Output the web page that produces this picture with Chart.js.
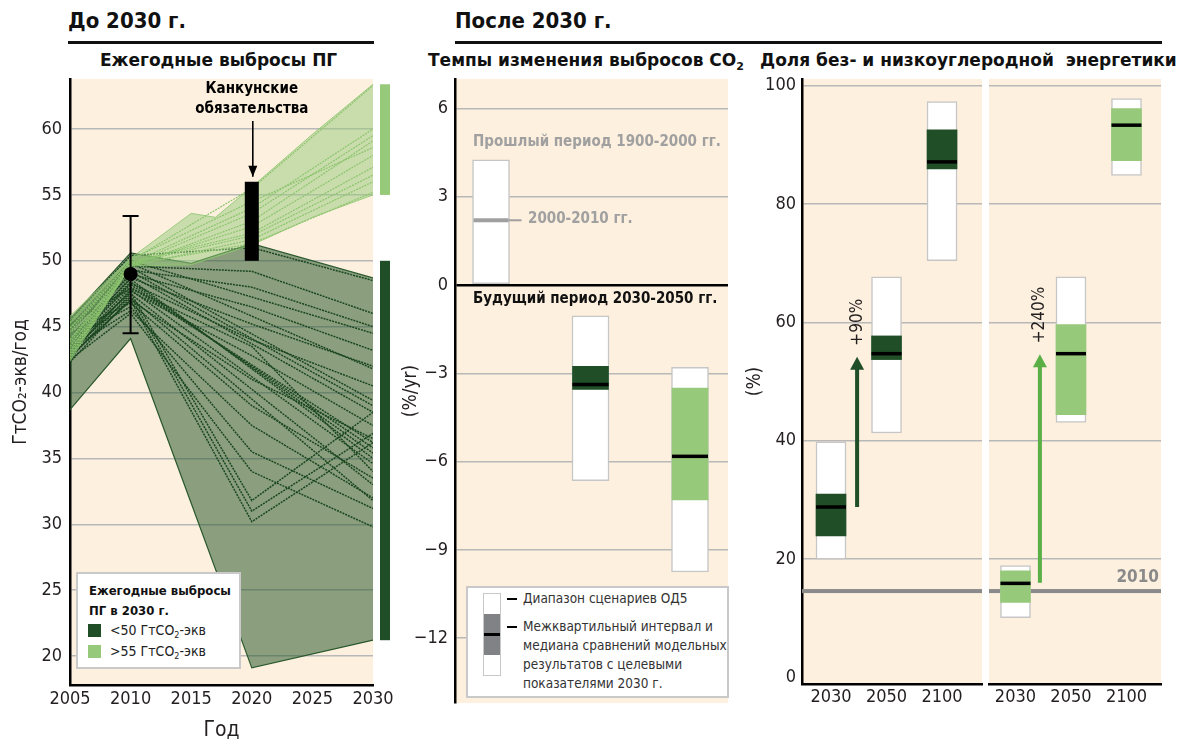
<!DOCTYPE html>
<html lang="ru">
<head>
<meta charset="utf-8">
<title>Выбросы ПГ до и после 2030 г.</title>
<script src="https://cdn.jsdelivr.net/npm/chart.js@4.4.1/dist/chart.umd.min.js"></script>
<style>
  html, body { margin: 0; padding: 0; background: #fff; }
  body { width: 1185px; height: 743px; position: relative; overflow: hidden;
         font-family: "DejaVu Sans Condensed", "DejaVu Sans", sans-serif; color: #111; }
  .abs { position: absolute; white-space: nowrap; }
  .head { font-weight: bold; font-size: 22px; line-height: 24px; }
  .rule { background: #111; height: 2.5px; }
  .sub { font-family: "DejaVu Sans", sans-serif; font-weight: bold; font-size: 17px; line-height: 20px; }
  .sub sub { font-size: 11px; vertical-align: -4px; }
  .note { font-weight: bold; font-size: 15px; line-height: 18px; }
  .legend { background: #fff; border: 2px solid #c9c9c9; box-sizing: border-box; }
  .legend sub { font-size: 9px; vertical-align: -3px; }
  .sw { position: absolute; width: 13px; height: 13px; }
  canvas { display: block; }
</style>
</head>
<body>

<div class="abs head" style="left:68px; top:9px;">До 2030 г.</div>
<div class="abs rule" style="left:68px; top:41px; width:306px;"></div>
<div class="abs head" style="left:455px; top:9px;">После 2030 г.</div>
<div class="abs rule" style="left:455px; top:41px; width:707px;"></div>

<div class="abs sub" style="left:100px; top:50px;">Ежегодные выбросы ПГ</div>
<div class="abs sub" style="left:428px; top:50px;">Темпы изменения выбросов CO<sub>2</sub></div>
<div class="abs sub" style="left:760px; top:50px;">Доля без- и низкоуглеродной&nbsp; энергетики</div>

<div class="abs" style="left:0; top:60px;"><canvas id="emissionsChart" width="400" height="683"></canvas></div>
<div class="abs" style="left:400px; top:60px;"><canvas id="ratesChart" width="340" height="683"></canvas></div>
<div class="abs" style="left:740px; top:60px;"><canvas id="shareLowChart" width="245" height="683"></canvas></div>
<div class="abs" style="left:985px; top:60px;"><canvas id="shareHighChart" width="200" height="683"></canvas></div>

<!-- подписи среднего графика -->
<div class="abs note" style="left:473px; top:132px; color:#a0a0a0;">Прошлый период 1900-2000 гг.</div>
<div class="abs note" style="left:528px; top:209px; color:#a0a0a0;">2000-2010 гг.</div>
<div class="abs note" style="left:473px; top:289px;">Будущий период 2030-2050 гг.</div>

<!-- легенда левого графика -->
<div class="abs legend" style="left:76px; top:572px; width:165px; height:97px;">
  <div class="abs" style="left:11px; top:7px; font-weight:bold; font-size:13px; line-height:20px;">Ежегодные выбросы<br>ПГ в 2030 г.</div>
  <div class="sw" style="left:10px; top:50px; background:#1f4e27;"></div>
  <div class="abs" style="left:32px; top:47px; font-size:14px; line-height:18px; color:#222;">&lt;50 ГтCO<sub>2</sub>-экв</div>
  <div class="sw" style="left:10px; top:71px; background:#96ca7a;"></div>
  <div class="abs" style="left:32px; top:68px; font-size:14px; line-height:18px; color:#222;">&gt;55 ГтCO<sub>2</sub>-экв</div>
</div>

<!-- легенда среднего графика -->
<div class="abs legend" style="left:466px; top:586px; width:263px; height:112px;">
  <div class="abs" style="left:15px; top:5px; width:18px; height:83px; border:1px solid #c9c9c9; background:#fff; box-sizing:border-box;"></div>
  <div class="abs" style="left:16px; top:26px; width:16px; height:41px; background:#808285;"></div>
  <div class="abs" style="left:16px; top:45px; width:16px; height:3px; background:#000;"></div>
  <div class="abs" style="left:39px; top:10px; width:10px; height:2px; background:#000;"></div>
  <div class="abs" style="left:39px; top:38px; width:10px; height:2px; background:#000;"></div>
  <div class="abs" style="left:55px; top:1px; font-size:13.5px; line-height:19px; color:#333;">Диапазон сценариев ОД5</div>
  <div class="abs" style="left:55px; top:29px; font-size:13.5px; line-height:19px; color:#333;">Межквартильный интервал и<br>медиана сравнений модельных<br>результатов с целевыми<br>показателями 2030 г.</div>
</div>

<script>
// ---------- ежегодные выбросы ПГ до 2030 г. ----------
const emissionTicks = [20, 25, 30, 35, 40, 45, 50, 55, 60];
const yearTicks = [2005, 2010, 2015, 2020, 2025, 2030];

// границы диапазона сценариев <50 ГтCO2-экв
const lowBandYears = [2005, 2010, 2015, 2020, 2030];
const lowBandUpper = [45.6, 50.6, 49.8, 51.3, 48.7];
const lowBandLower = [38.7, 44.1, 31.6, 19.1, 21.2];

// границы диапазона сценариев >55 ГтCO2-экв
const highBandYears = [2005, 2010, 2015, 2017, 2020, 2025, 2030];
const highBandUpper = [45.8, 50.2, 53.6, 53.3, 55.6, 59.6, 63.4];
const highBandLower = [42.4, 49.6, 49.7, 50.3, 51.2, 53.3, 55.0];

// отдельные сценарии: значения в 2005, 2010, 2020 и 2030 гг. (null — нет значения на 2020 г.)
const scenarioYears = [2005, 2010, 2020, 2030];
const lowScenarios = [
  [44.0, 48.6, null, 35.0],
  [43.8, 48.4, null, 35.4],
  [43.5, 48.2, null, 35.8],
  [43.2, 48.0, null, 36.2],
  [42.9, 47.8, null, 34.6],
  [44.3, 48.9, null, 38.5],
  [44.6, 49.2, null, 39.0],
  [44.8, 49.5, null, 39.4],
  [45.1, 49.8, null, 41.8],
  [45.3, 50.0, null, 44.5],
  [42.6, 47.5, null, 33.0],
  [42.3, 47.2, null, 31.8],
  [45.5, 50.4, 51.0, 48.5],
  [45.0, 49.6, 49.2, 46.0],
  [44.7, 49.3, 48.0, 45.0],
  [44.2, 49.0, 46.5, 43.2],
  [43.9, 48.7, 45.2, 42.0],
  [43.6, 48.3, 44.0, 40.5],
  [43.0, 47.7, 42.8, 37.5],
  [42.7, 47.0, 41.0, 36.5],
  [43.4, 47.6, 31.8, 38.5],
  [43.1, 47.3, 31.0, 36.9],
  [42.8, 47.0, 30.2, 36.2],
  [44.1, 46.5, 35.5, 31.2],
  [43.3, 46.2, 37.5, 32.0],
  [42.5, 46.0, 34.0, 29.8],
  [44.5, 46.8, 39.0, 33.5],
  [45.2, 47.9, 43.5, 34.0]
];
const highScenarios = [
  [44.6, 50.0, 55.5, 63.3],
  [44.0, 49.8, 54.0, 60.0],
  [43.5, 49.7, 53.6, 59.5],
  [43.0, 49.6, 53.0, 59.1],
  [42.6, 49.7, 52.6, 58.0],
  [44.9, 49.9, 52.1, 57.1],
  [43.8, 49.8, 51.9, 56.5],
  [42.8, 49.6, 51.6, 56.0],
  [45.3, 50.1, 54.5, 58.6],
  [43.2, 49.7, 51.3, 55.2]
];

// наблюдения 2010 г. и Канкунские обязательства на 2020 г.
const observed2010 = { year: 2010, value: 49.0, low: 44.5, high: 53.4 };
const cancunPledges = { year: 2020, low: 50.0, high: 56.0 };
// диапазоны 2030 г. для полос справа от графика
const range2030High = [55.0, 63.4];
const range2030Low = [21.2, 50.0];

// ---------- темпы изменения выбросов CO2 ----------
const rateTicks = [-12, -9, -6, -3, 0, 3, 6];
const ratePositions = [1, 2, 3];
const rateRanges = [[0, 4.25], [-6.65, -1.05], [-9.75, -2.8]];
const rateIqr = [null, [-3.55, -2.76], [-7.3, -3.5]];
const rateMedians = [null, -3.38, -5.82];
const rate2000s = 2.2;

// ---------- доля без- и низкоуглеродной энергетики ----------
const shareTicks = [0, 20, 40, 60, 80, 100];
const shareYears = ['2030', '2050', '2100'];
const sharePositions = [0, 1, 2];
const lowShareRange = [[20.0, 39.8], [41.3, 67.7], [70.4, 97.3]];
const lowShareIqr = [[23.9, 31.0], [53.7, 57.7], [85.9, 92.5]];
const lowShareMedian = [28.8, 54.7, 87.1];
const highShareRange = [[10.1, 18.9], [43.1, 67.7], [84.8, 97.8]];
const highShareIqr = [[12.7, 18.0], [44.4, 59.6], [87.3, 96.1]];
const highShareMedian = [15.9, 54.7, 93.3];
const share2010 = 14.6;

const DARK = '#1f4e27';
const LIGHT = '#96ca7a';
const BEIGE = '#fdf0de';
const GRID = '#b8b8b8';
const INK = '#231f20';
const TICK_FONT = { family: '"DejaVu Sans Condensed", "DejaVu Sans", sans-serif', size: 18 };

Chart.defaults.font.family = TICK_FONT.family;
Chart.defaults.color = INK;

const toPoints = (xs, ys) => xs.map((x, i) => ({ x: x, y: ys[i] }));

const beigeArea = {
  id: 'beigeArea',
  beforeDraw(chart) {
    const { ctx, chartArea: a } = chart;
    ctx.save();
    ctx.fillStyle = BEIGE;
    ctx.fillRect(a.left, a.top, a.right - a.left, a.bottom - a.top);
    ctx.restore();
  }
};

function fixedTicks(values) {
  return scale => { scale.ticks = values.map(v => ({ value: v })); };
}

// ---------- левый график ----------
const emissionMarks = {
  id: 'emissionMarks',
  afterDatasetsDraw(chart) {
    const { ctx, chartArea: a, scales: { x, y } } = chart;
    ctx.save();

    // Канкунские обязательства
    const cx = x.getPixelForValue(cancunPledges.year);
    ctx.fillStyle = '#000';
    ctx.fillRect(cx - 7, y.getPixelForValue(cancunPledges.high), 14,
      y.getPixelForValue(cancunPledges.low) - y.getPixelForValue(cancunPledges.high));

    // наблюдения 2010 г. с погрешностью
    const ox = x.getPixelForValue(observed2010.year);
    const top = y.getPixelForValue(observed2010.high);
    const bottom = y.getPixelForValue(observed2010.low);
    ctx.strokeStyle = '#000';
    ctx.lineWidth = 2;
    ctx.beginPath();
    ctx.moveTo(ox, top); ctx.lineTo(ox, bottom);
    ctx.moveTo(ox - 8, top); ctx.lineTo(ox + 8, top);
    ctx.moveTo(ox - 8, bottom); ctx.lineTo(ox + 8, bottom);
    ctx.stroke();
    ctx.beginPath();
    ctx.arc(ox, y.getPixelForValue(observed2010.value), 7, 0, Math.PI * 2);
    ctx.fill();

    // подпись и стрелка
    ctx.font = 'bold 15px "DejaVu Sans Condensed", sans-serif';
    ctx.textAlign = 'center';
    ctx.textBaseline = 'middle';
    ctx.fillText('Канкунские', cx, a.top + 10);
    ctx.fillText('обязательства', cx, a.top + 30);
    const tip = y.getPixelForValue(cancunPledges.high) - 5;
    ctx.lineWidth = 1.6;
    ctx.beginPath();
    ctx.moveTo(cx + 1, a.top + 42); ctx.lineTo(cx + 1, tip);
    ctx.stroke();
    ctx.beginPath();
    ctx.moveTo(cx + 1, tip); ctx.lineTo(cx - 3.5, tip - 11); ctx.lineTo(cx + 5.5, tip - 11);
    ctx.closePath();
    ctx.fill();

    // полосы диапазонов 2030 г.
    const bx = a.right + 7;
    ctx.fillStyle = LIGHT;
    ctx.fillRect(bx, y.getPixelForValue(range2030High[1]), 10,
      y.getPixelForValue(range2030High[0]) - y.getPixelForValue(range2030High[1]));
    ctx.fillStyle = DARK;
    ctx.fillRect(bx, y.getPixelForValue(range2030Low[1]), 10,
      y.getPixelForValue(range2030Low[0]) - y.getPixelForValue(range2030Low[1]));
    ctx.restore();
  }
};

const emissionDatasets = [];
emissionDatasets.push({
  data: toPoints(lowBandYears, lowBandUpper), fill: '+1', order: 6,
  backgroundColor: 'rgba(35, 85, 40, 0.52)', borderColor: '#2c5a2e', borderWidth: 1.2, pointRadius: 0
});
emissionDatasets.push({
  data: toPoints(lowBandYears, lowBandLower), fill: false, order: 6,
  borderColor: '#2c5a2e', borderWidth: 1.2, pointRadius: 0
});
lowScenarios.forEach(s => emissionDatasets.push({
  data: toPoints(scenarioYears, s), fill: false, order: 5, spanGaps: true,
  borderColor: '#1a4620', borderWidth: 1.5, borderDash: [2, 1], pointRadius: 0
}));
emissionDatasets.push({
  data: toPoints(highBandYears, highBandUpper), fill: '+1', order: 4,
  backgroundColor: 'rgba(150, 202, 122, 0.5)', borderColor: 'rgba(140, 196, 110, 0.8)', borderWidth: 1, pointRadius: 0
});
emissionDatasets.push({
  data: toPoints(highBandYears, highBandLower), fill: false, order: 4,
  borderColor: 'rgba(140, 196, 110, 0.8)', borderWidth: 1, pointRadius: 0
});
highScenarios.forEach(s => emissionDatasets.push({
  data: toPoints(scenarioYears, s), fill: false, order: 3,
  borderColor: '#8cc46e', borderWidth: 1.2, borderDash: [2, 1], pointRadius: 0
}));

new Chart(document.getElementById('emissionsChart'), {
  type: 'line',
  data: { datasets: emissionDatasets },
  options: {
    responsive: false, animation: false, devicePixelRatio: 1,
    layout: { padding: { top: 19, right: 27, bottom: 0, left: 0 } },
    plugins: { legend: { display: false }, tooltip: { enabled: false } },
    elements: { line: { tension: 0 } },
    scales: {
      x: {
        type: 'linear', min: 2005, max: 2030,
        afterBuildTicks: fixedTicks(yearTicks),
        afterFit: s => { s.height = 58; },
        grid: { display: false, drawTicks: false },
        border: { color: '#000', width: 2.5 },
        ticks: { font: TICK_FONT, padding: 4, color: INK, callback: v => String(v) },
        title: { display: true, text: 'Год', font: { size: 21 }, color: INK, padding: { top: 0, bottom: 0 } }
      },
      y: {
        min: 17.8, max: 63.8,
        afterBuildTicks: fixedTicks(emissionTicks),
        afterFit: s => { s.width = 70; },
        grid: { color: GRID, lineWidth: 1.5, drawTicks: false },
        border: { color: '#000', width: 2.5 },
        ticks: { font: TICK_FONT, padding: 8, color: INK },
        title: { display: true, text: 'ГтCO₂-экв/год', font: { size: 19 }, color: INK, padding: { top: 10, bottom: 0 } }
      }
    }
  },
  plugins: [beigeArea, emissionMarks]
});

// ---------- средний график ----------
function medianLines(medians, positions, halfWidth) {
  return {
    id: 'medianLines',
    afterDatasetsDraw(chart) {
      const { ctx, scales: { x, y } } = chart;
      ctx.save();
      ctx.fillStyle = '#000';
      medians.forEach((m, i) => {
        if (m === null) return;
        const px = x.getPixelForValue(positions[i]);
        ctx.fillRect(px - halfWidth, y.getPixelForValue(m) - 1.75, halfWidth * 2, 3.5);
      });
      ctx.restore();
    }
  };
}

const pastRateLine = {
  id: 'pastRateLine',
  afterDatasetsDraw(chart) {
    const { ctx, scales: { x, y } } = chart;
    const px = x.getPixelForValue(ratePositions[0]);
    const py = y.getPixelForValue(rate2000s);
    ctx.save();
    ctx.fillStyle = '#a0a0a0';
    ctx.fillRect(px - 17.5, py - 2, 35, 4);
    ctx.fillRect(px + 17.5, py - 1, 13, 2);
    ctx.restore();
  }
};

new Chart(document.getElementById('ratesChart'), {
  type: 'bar',
  data: {
    datasets: [
      {
        data: ratePositions.map((p, i) => rateIqr[i] && { x: p, y: rateIqr[i] }).filter(Boolean),
        backgroundColor: [DARK, LIGHT], borderWidth: 0, grouped: false, barThickness: 36, order: 1
      },
      {
        data: ratePositions.map((p, i) => ({ x: p, y: rateRanges[i] })),
        backgroundColor: '#fff', borderColor: '#c6c6c6', borderWidth: 1.5, borderSkipped: false,
        grouped: false, barThickness: 37, order: 2
      }
    ]
  },
  options: {
    responsive: false, animation: false, devicePixelRatio: 1,
    layout: { padding: { top: 19, right: 12, bottom: 40, left: 0 } },
    plugins: { legend: { display: false }, tooltip: { enabled: false } },
    scales: {
      x: { type: 'linear', min: 0.638, max: 3.382, offset: false, display: false },
      y: {
        min: -14.2, max: 7,
        afterBuildTicks: fixedTicks(rateTicks),
        afterFit: s => { s.width = 55; },
        grid: {
          drawTicks: false,
          color: c => c.tick && c.tick.value === 0 ? '#000' : GRID,
          lineWidth: c => c.tick && c.tick.value === 0 ? 2.5 : 1.5
        },
        border: { color: '#000', width: 2.5 },
        ticks: { font: TICK_FONT, padding: 7, color: INK, callback: v => String(v).replace('-', '\u2212') },
        title: { display: true, text: '(%/yr)', font: { size: 19 }, color: INK, padding: { top: 0, bottom: 0 } }
      }
    }
  },
  plugins: [beigeArea, medianLines(rateMedians, ratePositions, 18), pastRateLine]
});

// ---------- правые графики ----------
function shareArrow(from, to, pos, color, label) {
  return {
    id: 'shareArrow',
    beforeDatasetsDraw(chart) {
      const { ctx, chartArea: a, scales: { y } } = chart;
      const py = y.getPixelForValue(share2010);
      ctx.save();
      ctx.fillStyle = '#8a8a8a';
      ctx.fillRect(a.left, py - 2, a.right - a.left, 4);
      ctx.restore();
    },
    afterDatasetsDraw(chart) {
      const { ctx, scales: { x, y } } = chart;
      const px = x.getPixelForValue(pos);
      const y0 = y.getPixelForValue(from);
      const y1 = y.getPixelForValue(to);
      ctx.save();
      ctx.fillStyle = color;
      ctx.fillRect(px - 2, y1 + 10, 4, y0 - y1 - 10);
      ctx.beginPath();
      ctx.moveTo(px, y1); ctx.lineTo(px - 7, y1 + 13); ctx.lineTo(px + 7, y1 + 13);
      ctx.closePath();
      ctx.fill();
      ctx.translate(px, y1 - 11);
      ctx.rotate(-Math.PI / 2);
      ctx.fillStyle = INK;
      ctx.font = '17px "DejaVu Sans Condensed", sans-serif';
      ctx.textAlign = 'left';
      ctx.textBaseline = 'middle';
      ctx.fillText(label, 0, 0);
      ctx.restore();
    }
  };
}

const label2010 = {
  id: 'label2010',
  afterDatasetsDraw(chart) {
    const { ctx, chartArea: a, scales: { y } } = chart;
    ctx.save();
    ctx.fillStyle = '#8a8a8a';
    ctx.font = 'bold 17px "DejaVu Sans Condensed", sans-serif';
    ctx.textAlign = 'right';
    ctx.textBaseline = 'bottom';
    ctx.fillText('2010', a.right - 2, y.getPixelForValue(share2010) - 5);
    ctx.restore();
  }
};

function shareChart(id, ranges, iqr, medians, color, xMin, xMax, withAxis, extra) {
  return new Chart(document.getElementById(id), {
    type: 'bar',
    data: {
      datasets: [
        {
          data: sharePositions.map((p, i) => ({ x: p, y: iqr[i] })),
          backgroundColor: color, borderWidth: 0, grouped: false, barThickness: 30, order: 1
        },
        {
          data: sharePositions.map((p, i) => ({ x: p, y: ranges[i] })),
          backgroundColor: '#fff', borderColor: '#c6c6c6', borderWidth: 1.5, borderSkipped: false,
          grouped: false, barThickness: 30, order: 2
        }
      ]
    },
    options: {
      responsive: false, animation: false, devicePixelRatio: 1,
      layout: { padding: withAxis ? { top: 19, right: 3, bottom: 19, left: 0 } : { top: 19, right: 24, bottom: 19, left: 4 } },
      plugins: { legend: { display: false }, tooltip: { enabled: false } },
      scales: {
        x: {
          type: 'linear', min: xMin, max: xMax, offset: false,
          afterBuildTicks: fixedTicks(sharePositions),
          afterFit: s => { s.height = 40; },
          grid: { display: false, drawTicks: false },
          border: { color: '#000', width: 2.5 },
          ticks: { font: TICK_FONT, padding: 3, color: INK, callback: v => shareYears[v] }
        },
        y: {
          min: -1.1, max: 101.1,
          afterBuildTicks: fixedTicks(shareTicks),
          afterFit: s => { s.width = withAxis ? 62 : 0; },
          grid: {
            drawTicks: false, lineWidth: 1.5,
            color: c => c.tick && c.tick.value === 0 ? 'rgba(0,0,0,0)' : GRID
          },
          border: { display: withAxis, color: '#000', width: 2.5 },
          ticks: { display: withAxis, font: TICK_FONT, padding: 6, color: INK },
          title: { display: withAxis, text: '(%)', font: { size: 19 }, color: INK, padding: { top: 4, bottom: 0 } }
        }
      }
    },
    plugins: [beigeArea, medianLines(medians, sharePositions, 15)].concat(extra)
  });
}

shareChart('shareLowChart', lowShareRange, lowShareIqr, lowShareMedian, DARK, -0.5225, 2.72, true,
  [shareArrow(lowShareMedian[0], 54.2, 0.47, DARK, '+90%')]);
shareChart('shareHighChart', highShareRange, highShareIqr, highShareMedian, LIGHT, -0.477, 2.622, false,
  [shareArrow(16.0, 54.6, 0.44, '#5aaf45', '+240%'), label2010]);
</script>
</body>
</html>
